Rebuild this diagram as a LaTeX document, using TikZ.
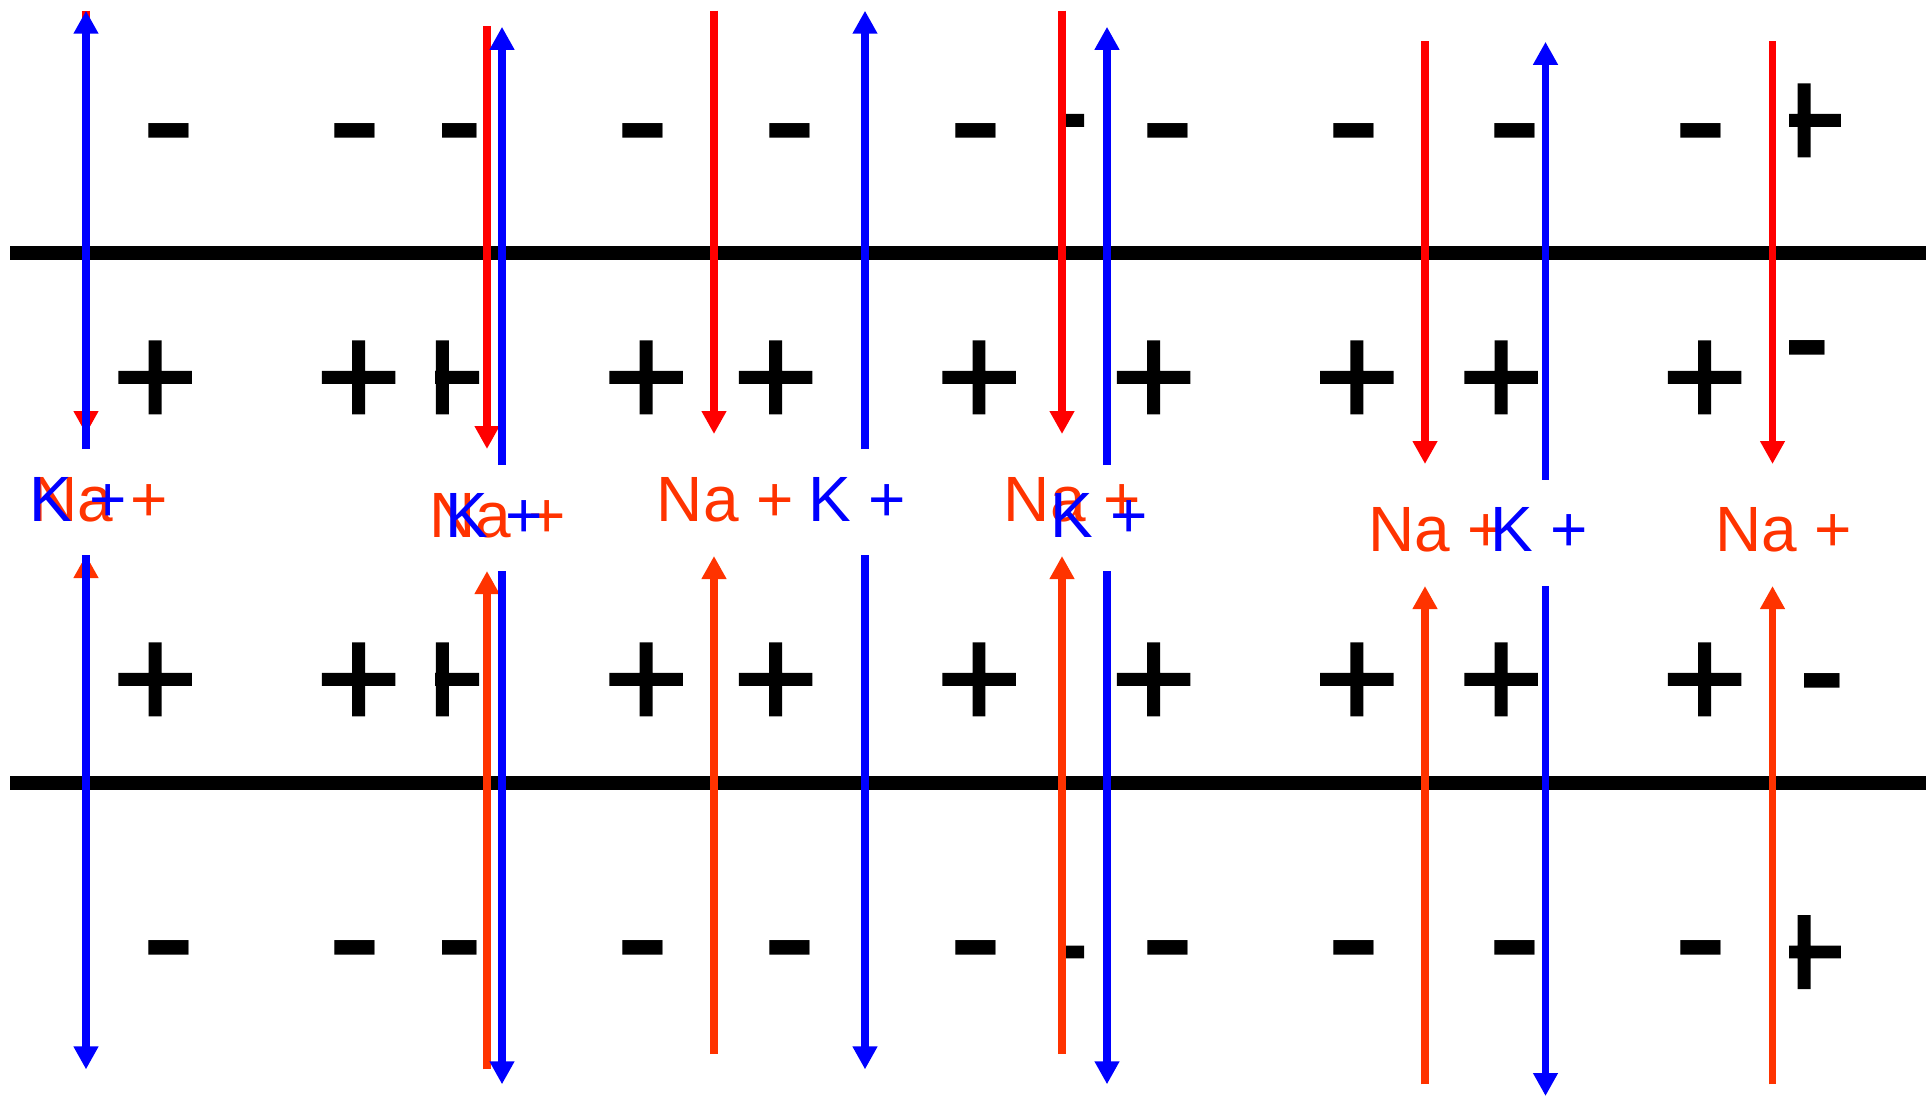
\documentclass[tikz,border=0pt]{standalone}
\usepackage{fontspec}
\usepackage{graphicx}
\setmainfont{Liberation Sans}
\newfontfamily\plusfont{Liberation Sans}[FakeBold=1.7]
\usetikzlibrary{arrows.meta}
\definecolor{kblue}{RGB}{0,0,255}
\definecolor{nared}{RGB}{255,0,0}
\definecolor{naorange}{RGB}{255,51,0}
\newdimen\gL \newdimen\gR \newdimen\gT \newdimen\gB \newdimen\gW
\newcommand\measureglyph[2]{%
  \begingroup #1\relax
  \setbox0=\hbox{#2}%
  \global\gW=\wd0
  \global\gL=\XeTeXglyphbounds1 \XeTeXcharglyph`#2\relax
  \global\gR=\XeTeXglyphbounds3 \XeTeXcharglyph`#2\relax
  \global\gT=\XeTeXglyphbounds2 \XeTeXcharglyph`#2\relax
  \global\gB=\XeTeXglyphbounds4 \XeTeXcharglyph`#2\relax
  \endgroup
  \ifdim\gB<0pt \global\gB=-\gB\fi}
\newcommand\mn{\scalebox{1}[\mvs]{-}}
\tikzset{
  membrane/.style={draw=black, line width=14pt},
  natop/.style={draw=nared, line width=7.7pt, -{Triangle[width=23.5pt,length=23pt]}},
  nabot/.style={draw=naorange, line width=7.7pt, -{Triangle[width=23.5pt,length=23pt]}},
  karrow/.style={draw=kblue, line width=7.7pt, -{Triangle[width=23.5pt,length=23pt]}},
  ionlab/.style={inner sep=0pt, anchor=base west, font=\fontsize{64}{64}\selectfont},
  nalab/.style={ionlab, text=naorange},
  klab/.style={ionlab, text=kblue},
  plusc/.style={inner sep=0pt, anchor=base west, xshift=-\pox pt, yshift=-\poy pt,
    font=\plusfont\fontsize{\psize}{\psize}\selectfont},
  minusc/.style={inner sep=0pt, anchor=base west, xshift=-\mox pt, yshift=-\moys pt,
    font=\fontsize{\msize}{\msize}\selectfont},
}
\begin{document}%
\measureglyph{\plusfont\fontsize{100}{100}\selectfont}{+}%
\pgfmathsetmacro\pinkw{\gW-\gL-\gR}%
\pgfmathsetmacro\pk{71/\pinkw}%
\pgfmathsetmacro\psize{100*\pk}%
\pgfmathsetmacro\pox{(\gL+\pinkw/2)*\pk}%
\pgfmathsetmacro\poy{(\gT+\gB)/2*\pk}%
\measureglyph{\fontsize{100}{100}\selectfont}{-}%
\pgfmathsetmacro\minkw{\gW-\gL-\gR}%
\pgfmathsetmacro\mk{40.2/\minkw}%
\pgfmathsetmacro\msize{100*\mk}%
\pgfmathsetmacro\mox{(\gL+\minkw/2)*\mk}%
\pgfmathsetmacro\moy{(\gT+\gB)/2*\mk}%
\pgfmathsetmacro\mvs{14.6/((\gT-\gB)*\mk)}%
\pgfmathsetmacro\moys{\moy*\mvs}%
\begin{tikzpicture}[x=1pt,y=-1pt]
\useasboundingbox (0,0) rectangle (1926,1096);

% charges
\foreach \x [count=\i] in {169,355,643,790,976,1168,1354,1515,1701} {
  \node[minusc] (mA\i) at (\x,131.3) {\mn};
  \node[minusc] (mD\i) at (\x,948.3) {\mn};
}
\foreach \x [count=\i] in {155,358.4,646,775.4,978.8,1153.3,1356.7,1501,1704.5} {
  \node[plusc] (pB\i) at (\x,377.3) {+};
  \node[plusc] (pC\i) at (\x,679.4) {+};
}
% partly hidden charges
\begin{scope}
  \clip (442.7,100) rectangle (500,165);
  \node[minusc] (mA0) at (457,131.3) {\mn};
\end{scope}
\begin{scope}
  \clip (442.7,915) rectangle (500,980);
  \node[minusc] (mD0) at (457,948.3) {\mn};
\end{scope}
\begin{scope}
  \clip (435,325) rectangle (500,430);
  \node[plusc] (pB0) at (442.2,377.3) {+};
\end{scope}
\begin{scope}
  \clip (435,625) rectangle (500,735);
  \node[plusc] (pC0) at (442.2,679.4) {+};
\end{scope}
\begin{scope}
  \clip (1065.7,75) rectangle (1100,165);
  \node[plusc] (pA1) at (1047.2,120.3) {+};
\end{scope}
\begin{scope}
  \clip (1065.7,905) rectangle (1100,1000);
  \node[plusc] (pD1) at (1047.2,952) {+};
\end{scope}
\begin{scope}
  \clip (1789,70) rectangle (1926,170);
  \node[plusc] (pA2) at (1803.8,120.3) {+};
\end{scope}
\begin{scope}
  \clip (1789,900) rectangle (1926,1005);
  \node[plusc] (pD2) at (1803.8,952) {+};
\end{scope}
\begin{scope}
  \clip (1789,315) rectangle (1926,380);
  \node[minusc] (mB1) at (1805,347.5) {\mn};
\end{scope}
\begin{scope}
  \clip (1804,650) rectangle (1926,712);
  \node[minusc] (mC1) at (1820,680.5) {\mn};
\end{scope}

% membranes
\coordinate (m1l) at (10,253); \coordinate (m1r) at (1926,253);
\coordinate (m2l) at (10,783); \coordinate (m2r) at (1926,783);
\draw[membrane] (m1l) -- (m1r);
\draw[membrane] (m2l) -- (m2r);

% Na+ arrows (top: inward, down)
\foreach \x/\a/\b [count=\i] in {86/10.7/434, 487/26/449, 714/10.7/434, 1062/10.7/434, 1425/41/464, 1772.5/41/464} {
  \coordinate (nts\i) at (\x,\a); \coordinate (nte\i) at (\x,\b);
  \draw[natop] (nts\i) -- (nte\i);
}
% Na+ arrows (bottom: up)
\foreach \x/\a/\b [count=\i] in {86/1054/555, 487/1069.4/571, 714/1054/556, 1062/1054/556, 1425/1084.3/586, 1772.5/1084.3/586} {
  \coordinate (nbs\i) at (\x,\a); \coordinate (nbe\i) at (\x,\b);
  \draw[nabot] (nbs\i) -- (nbe\i);
}
% K+ arrows (top: up)
\foreach \x/\a/\b [count=\i] in {86/449/10.7, 502/465/26.8, 865/449/10.7, 1107/465/26.8, 1545.5/479.6/41.8} {
  \coordinate (kts\i) at (\x,\a); \coordinate (kte\i) at (\x,\b);
  \draw[karrow] (kts\i) -- (kte\i);
}
% K+ arrows (bottom: down)
\foreach \x/\a/\b [count=\i] in {86/555/1069.4, 502/571/1084.3, 865/555/1069.4, 1107/571/1084.3, 1545.5/586/1096} {
  \coordinate (kbs\i) at (\x,\a); \coordinate (kbe\i) at (\x,\b);
  \draw[karrow] (kbs\i) -- (kbe\i);
}

% labels
\node[nalab] (na1) at (31,521) {Na +};
\node[nalab] (na2) at (429,537) {Na +};
\node[nalab] (na3) at (656.7,521) {Na +};
\node[nalab] (na4) at (1003.6,521) {Na +};
\node[nalab] (na5) at (1368,551) {Na +};
\node[nalab] (na6) at (1715,551) {Na +};
\node[klab] (k1) at (29.3,521) {K +};
\node[klab] (k2) at (445,537) {K +};
\node[klab] (k3) at (808.3,521) {K +};
\node[klab] (k4) at (1049.8,537) {K +};
\node[klab] (k5) at (1489.8,551) {K +};
\end{tikzpicture}
\end{document}
